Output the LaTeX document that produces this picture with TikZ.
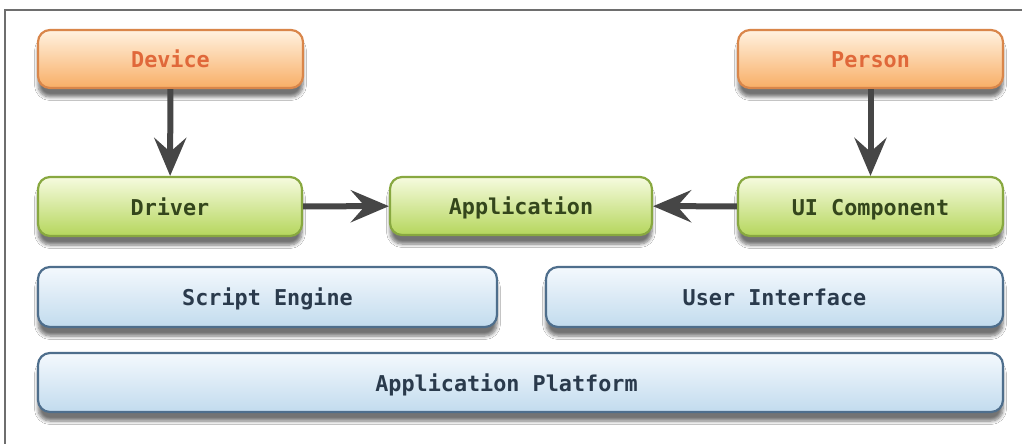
\documentclass[tikz,border=0pt]{standalone}
\usepackage{fontspec}
\newfontfamily\monob{DejaVu Sans Mono}
\usetikzlibrary{arrows.meta,shadows.blur}
\definecolor{arrowgray}{HTML}{464646}
\definecolor{framegray}{HTML}{6E6E6E}
\definecolor{orTop}{HTML}{FFF2E0}
\definecolor{orBot}{HTML}{F8AE66}
\definecolor{orLine}{HTML}{D9864A}
\definecolor{orText}{HTML}{E0683A}
\definecolor{grTop}{HTML}{F6FBDF}
\definecolor{grBot}{HTML}{B5D65C}
\definecolor{grLine}{HTML}{88A840}
\definecolor{grText}{HTML}{34461C}
\definecolor{blTop}{HTML}{F4F9FD}
\definecolor{blBot}{HTML}{C2DBEE}
\definecolor{blLine}{HTML}{4E6E8C}
\definecolor{blText}{HTML}{2A3A4C}
\tikzset{
  box/.style={rectangle, rounded corners=6pt, inner sep=0pt, line width=1.1pt,
    text height=9pt, text depth=0.5pt,
    font=\monob\bfseries\fontsize{10.9}{13}\selectfont,
    blur shadow={shadow xshift=0pt, shadow yshift=-4.5pt, shadow blur steps=6, shadow opacity=55}},
  orangebox/.style={box, draw=orLine, top color=orTop, bottom color=orBot, text=orText},
  greenbox/.style={box, draw=grLine, top color=grTop, bottom color=grBot, text=grText},
  bluebox/.style={box, draw=blLine, top color=blTop, bottom color=blBot, text=blText},
  flow/.style={draw=arrowgray, line width=3pt,
    -{Stealth[length=19pt, width=16pt, inset=7pt]}},
}
\begin{document}
\begin{tikzpicture}[x=0.5pt, y=-0.5pt]
\useasboundingbox (0,0) rectangle (1022,444);
\fill[white] (0,0) rectangle (1022,444);
\draw[framegray, line width=1pt] (5,444) -- (5,10) -- (1022,10);

\node[orangebox, minimum width=132.5pt, minimum height=29pt] (device) at (170.5,59) {Device};
\node[orangebox, minimum width=132.5pt, minimum height=29pt] (person) at (870.5,59) {Person};
\node[greenbox, minimum width=132pt, minimum height=29.5pt] (driver) at (170,206.5) {Driver};
\node[greenbox, minimum width=131pt, minimum height=29pt] (app) at (521,206) {Application};
\node[greenbox, minimum width=132.5pt, minimum height=29.5pt] (ui) at (870.5,206.5) {UI Component};
\node[bluebox, minimum width=229.5pt, minimum height=30pt] (script) at (267.5,297) {Script Engine};
\node[bluebox, minimum width=228.5pt, minimum height=30pt] (uif) at (774.5,297) {User Interface};
\node[bluebox, minimum width=482.5pt, minimum height=29.5pt] (platform) at (520.5,382.5) {\hspace*{-14pt}Application Platform};

\draw[flow] (device) -- (driver);
\draw[flow] (person) -- (ui);
\draw[flow] (driver) -- (app);
\draw[flow] (ui) -- (app);
\end{tikzpicture}
\end{document}
